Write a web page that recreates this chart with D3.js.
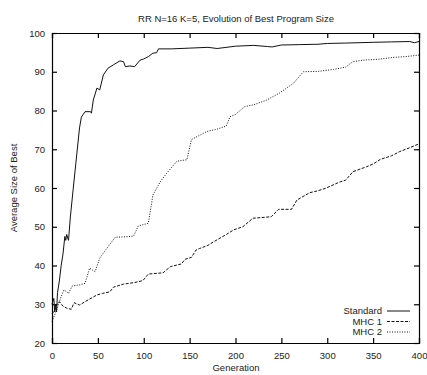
<!DOCTYPE html>
<html>
<head>
<meta charset="utf-8">
<script src="https://cdn.jsdelivr.net/npm/d3@7"></script>
<style>
  body { margin: 0; background: #fff; }
  svg text { font-family: 'Liberation Sans Narrow', 'Liberation Sans', Arial, sans-serif; fill: #222; }
</style>
</head>
<body>
<svg id="chart" width="427" height="375"></svg>
<script>
/* series: generation -> average size of best */
const stdGen = [0, 2, 3, 4, 5, 6, 8, 10, 12, 14, 15, 16, 18, 20, 23, 26, 30, 32, 36, 42, 43, 45, 49, 52, 56, 61, 67, 74, 78, 80, 85, 90, 96, 100, 105, 110, 114, 116, 130, 150, 170, 180, 200, 220, 235, 240, 250, 270, 290, 300, 320, 350, 370, 390, 395, 400]
const stdVal = [30, 31.5, 28, 30, 28, 33, 36, 40, 43, 47.5, 46.5, 48, 46.5, 52.5, 59.5, 66.4, 75.5, 78.3, 79.7, 79.7, 79.3, 82.7, 85.8, 85.3, 89.2, 90.9, 91.8, 92.8, 92.6, 91.3, 91.5, 91.3, 93, 93.3, 93.9, 94.8, 94.9, 95.9, 95.9, 96.1, 96.3, 96.0, 96.6, 96.8, 96.5, 96.4, 96.9, 97.0, 97.1, 97.3, 97.4, 97.6, 97.7, 97.8, 97.5, 97.8]

const mhc1Gen = [0, 3, 5, 8, 12, 16, 21, 24, 30, 40, 49, 55, 63, 67, 78, 90, 99, 105, 115, 121, 129, 141, 145, 152, 157, 161, 170, 176, 190, 198, 208, 219, 230, 239, 247, 261, 267, 281, 290, 298, 314, 320, 328, 343, 350, 358, 370, 379, 390, 400]
const mhc1Val = [27.5, 28.5, 29.8, 30.7, 29.5, 29, 28.7, 30.4, 29.8, 31.2, 32.4, 32.8, 33.2, 34.4, 35.2, 35.6, 36.1, 37.8, 38, 38.1, 39.7, 40.4, 41.6, 42.1, 44, 44.4, 45.2, 46.1, 48, 49.2, 50, 52.2, 52.4, 52.6, 54.5, 54.5, 56.9, 58.8, 59.3, 59.9, 61.6, 62, 64.2, 65.5, 66.2, 67.4, 68.3, 69.4, 70.4, 71.4]

const mhc2Gen = [0, 5, 10, 13, 18, 22, 30, 36, 41, 47, 52, 60, 69, 80, 89, 94, 105, 110, 118, 125, 136, 147, 152, 160, 169, 180, 190, 194, 200, 210, 220, 234, 248, 263, 274, 290, 307, 320, 328, 339, 355, 372, 385, 400]
const mhc2Val = [25.5, 28.5, 32, 33.7, 32.8, 34.7, 35, 35.4, 39.3, 38.4, 41.9, 44.5, 47.3, 47.4, 47.6, 50.2, 50.9, 58.2, 61.6, 63.8, 66.9, 67.3, 72.5, 73.5, 74.6, 75.2, 76, 78.4, 79, 81, 81.5, 82.7, 84.5, 87, 90, 90.1, 90.6, 91.2, 92.6, 93, 93.2, 93.7, 93.9, 94.3]

const seriesNames = ['Standard', 'MHC 1', 'MHC 2']
const xTicks = [0, 50, 100, 150, 200, 250, 300, 350, 400]
const yTicks = [20, 30, 40, 50, 60, 70, 80, 90, 100]

/* plot frame */
const margin = { top: 33, left: 52, right: 8, bottom: 32 }
const width = 427 - margin.left - margin.right
const height = 375 - margin.top - margin.bottom

const svg = d3.select('#chart')
const g = svg.append('g').attr('transform', `translate(${margin.left},${margin.top})`)

const xScale = d3.scaleLinear().domain([0, 400]).range([0, width])
const yScale = d3.scaleLinear().domain([20, 100]).range([height, 0])

/* axes with mirrored inward ticks, gnuplot style */
const fontSize = 9.5
g.append('g').attr('transform', `translate(0,${height})`)
  .call(d3.axisBottom(xScale).tickValues(xTicks).tickSize(-5).tickPadding(9))
g.append('g')
  .call(d3.axisTop(xScale).tickValues(xTicks).tickSize(-5).tickFormat(''))
g.append('g')
  .call(d3.axisLeft(yScale).tickValues(yTicks).tickSize(-5).tickPadding(7))
g.append('g').attr('transform', `translate(${width},0)`)
  .call(d3.axisRight(yScale).tickValues(yTicks).tickSize(-5).tickFormat(''))

g.selectAll('.domain').attr('stroke', '#000').attr('stroke-width', 1.2)
g.selectAll('.tick line').attr('stroke', '#000').attr('stroke-width', 1.2)
g.selectAll('.tick text')
  .style('font-size', fontSize + 'px')
  .style('font-family', "'Liberation Sans Narrow', 'Liberation Sans', Arial, sans-serif")
  .attr('fill', '#222')

/* lines */
const line = d3.line().x((d) => xScale(d[0])).y((d) => yScale(d[1]))
const seriesData = [
  d3.zip(stdGen, stdVal),
  d3.zip(mhc1Gen, mhc1Val),
  d3.zip(mhc2Gen, mhc2Val)
]
const dashes = [null, '3,1.5', '1,1.5']

seriesData.forEach(function (d, i) {
  g.append('path')
    .datum(d)
    .attr('fill', 'none')
    .attr('stroke', '#111')
    .attr('stroke-width', 1)
    .attr('stroke-dasharray', dashes[i])
    .attr('d', line)
})

/* legend */
seriesNames.forEach(function (name, i) {
  const ly = 278 + i * 10.5
  g.append('text')
    .attr('x', 330)
    .attr('y', ly)
    .attr('dy', '0.35em')
    .attr('text-anchor', 'end')
    .style('font-size', fontSize + 'px')
    .text(name)
  g.append('line')
    .attr('x1', 335).attr('x2', 358)
    .attr('y1', ly).attr('y2', ly)
    .attr('stroke', '#111')
    .attr('stroke-width', 1)
    .attr('stroke-dasharray', dashes[i])
})

/* title and axis labels */
svg.append('text')
  .attr('x', 236).attr('y', 22)
  .attr('text-anchor', 'middle')
  .style('font-size', fontSize + 'px')
  .text('RR N=16 K=5, Evolution of Best Program Size')

svg.append('text')
  .attr('x', 236).attr('y', 371)
  .attr('text-anchor', 'middle')
  .style('font-size', fontSize + 'px')
  .text('Generation')

svg.append('text')
  .attr('transform', 'translate(17,188) rotate(-90)')
  .attr('text-anchor', 'middle')
  .style('font-size', fontSize + 'px')
  .text('Average Size of Best')
</script>
</body>
</html>
